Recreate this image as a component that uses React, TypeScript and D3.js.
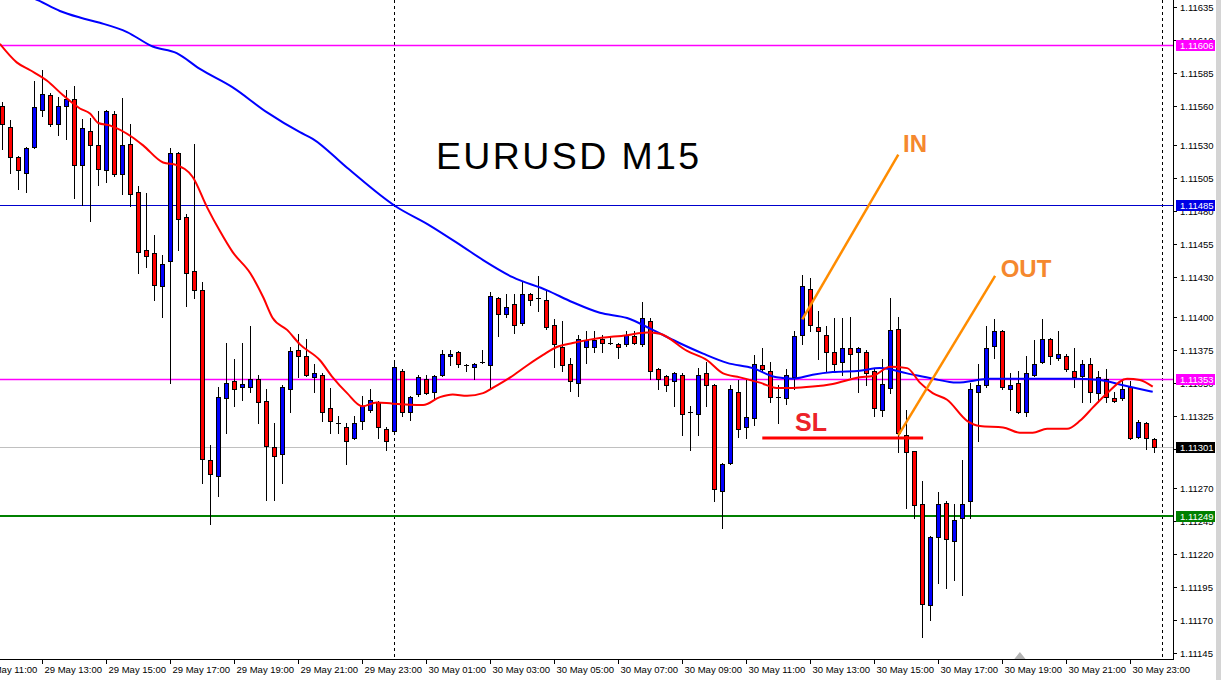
import React from 'react';
import * as d3 from 'd3';

// ---------- DATA ----------
const open = [
  1.11560,1.11544,1.11521,1.11509,1.11529,1.11557,1.11568,1.11546,1.11560,1.11565,
  1.11515,1.11541,1.11530,1.11511,1.11554,1.11508,1.11531,1.11495,1.11451,1.11448,
  1.11423,1.11442,1.11524,1.11476,1.11435,1.11420,1.11291,1.11279,1.11338,1.11351,
  1.11347,1.11347,1.11353,1.11336,1.11301,1.11296,1.11345,1.11375,1.11370,1.11354,
  1.11356,1.11331,1.11319,1.11316,1.11308,1.11321,1.11329,1.11335,1.11315,1.11313,
  1.11359,1.11328,1.11341,1.11353,1.11343,1.11356,1.11370,1.11373,1.11363,1.11362,
  1.11366,1.11363,1.11414,1.11402,1.11410,1.11395,1.11417,1.11414,1.11413,1.11394,
  1.11377,1.11364,1.11350,1.11377,1.11377,1.11383,1.11380,1.11379,1.11379,1.11385,
  1.11379,1.11397,1.11360,1.11355,1.11351,1.11356,1.11328,1.11326,1.11357,1.11348,
  1.11268,1.11289,1.11343,1.11316,1.11323,1.11363,1.11359,1.11339,1.11338,1.11354,
  1.11386,1.11421,1.11392,1.11386,1.11373,1.11366,1.11376,1.11373,1.11373,1.11359,
  1.11329,1.11346,1.11391,1.11310,1.11298,1.11258,1.11181,1.11233,1.11259,1.11230,
  1.11247,1.11260,1.11343,1.11348,1.11378,1.11389,1.11345,1.11350,1.11328,1.11356,
  1.11366,1.11383,1.11369,1.11370,1.11359,1.11355,1.11364,1.11342,1.11353,1.11338,
  1.11338,1.11347,1.11309,1.11319,1.11307,
];
const high = [
  1.11563,1.11549,1.11522,1.11529,1.11579,1.11587,1.11570,1.11567,1.11572,1.11575,
  1.11550,1.11551,1.11556,1.11557,1.11556,1.11566,1.11546,1.11499,1.11494,1.11462,
  1.11447,1.11528,1.11525,1.11478,1.11531,1.11426,1.11303,1.11347,1.11380,1.11368,
  1.11380,1.11393,1.11356,1.11345,1.11319,1.11348,1.11377,1.11387,1.11383,1.11364,
  1.11357,1.11346,1.11325,1.11319,1.11325,1.11340,1.11345,1.11336,1.11316,1.11366,
  1.11360,1.11340,1.11356,1.11356,1.11356,1.11375,1.11375,1.11374,1.11364,1.11365,
  1.11375,1.11419,1.11415,1.11417,1.11417,1.11427,1.11418,1.11431,1.11420,1.11398,
  1.11397,1.11369,1.11386,1.11389,1.11389,1.11386,1.11385,1.11380,1.11389,1.11389,
  1.11411,1.11399,1.11361,1.11356,1.11358,1.11357,1.11332,1.11361,1.11366,1.11349,
  1.11289,1.11348,1.11352,1.11352,1.11371,1.11376,1.11366,1.11348,1.11360,1.11389,
  1.11432,1.11429,1.11404,1.11393,1.11399,1.11399,1.11400,1.11377,1.11375,1.11361,
  1.11368,1.11414,1.11400,1.11329,1.11298,1.11275,1.11234,1.11267,1.11260,1.11258,
  1.11291,1.11350,1.11364,1.11393,1.11398,1.11390,1.11357,1.11359,1.11370,1.11382,
  1.11398,1.11384,1.11389,1.11372,1.11376,1.11367,1.11369,1.11359,1.11360,1.11343,
  1.11351,1.11351,1.11322,1.11320,1.11308,
];
const low = [
  1.11527,1.11509,1.11497,1.11495,1.11528,1.11552,1.11545,1.11538,1.11535,1.11490,
  1.11485,1.11473,1.11500,1.11502,1.11507,1.11493,1.11484,1.11433,1.11438,1.11413,
  1.11400,1.11350,1.11451,1.11408,1.11414,1.11274,1.11243,1.11264,1.11312,1.11332,
  1.11337,1.11343,1.11319,1.11261,1.11261,1.11274,1.11328,1.11354,1.11355,1.11343,
  1.11321,1.11312,1.11312,1.11288,1.11307,1.11315,1.11328,1.11308,1.11299,1.11312,
  1.11325,1.11322,1.11340,1.11341,1.11338,1.11355,1.11363,1.11362,1.11359,1.11353,
  1.11365,1.11345,1.11385,1.11400,1.11388,1.11394,1.11409,1.11404,1.11391,1.11362,
  1.11359,1.11344,1.11340,1.11365,1.11373,1.11373,1.11379,1.11369,1.11378,1.11379,
  1.11378,1.11353,1.11345,1.11344,1.11332,1.11310,1.11299,1.11310,1.11332,1.11260,
  1.11240,1.11288,1.11309,1.11308,1.11318,1.11359,1.11335,1.11319,1.11334,1.11345,
  1.11379,1.11389,1.11368,1.11358,1.11358,1.11356,1.11354,1.11343,1.11348,1.11325,
  1.11325,1.11342,1.11297,1.11255,1.11247,1.11157,1.11170,1.11198,1.11194,1.11200,
  1.11189,1.11247,1.11306,1.11347,1.11369,1.11345,1.11329,1.11327,1.11325,1.11355,
  1.11365,1.11364,1.11367,1.11359,1.11347,1.11335,1.11335,1.11335,1.11335,1.11335,
  1.11337,1.11307,1.11308,1.11300,1.11297,
];
const close = [
  1.11546,1.11521,1.11511,1.11528,1.11559,1.11569,1.11546,1.11560,1.11565,1.11515,
  1.11543,1.11530,1.11512,1.11556,1.11508,1.11530,1.11493,1.11449,1.11446,1.11424,
  1.11440,1.11524,1.11474,1.11433,1.11420,1.11292,1.11281,1.11339,1.11350,1.11345,
  1.11349,1.11353,1.11335,1.11302,1.11294,1.11347,1.11374,1.11370,1.11356,1.11357,
  1.11328,1.11321,1.11319,1.11306,1.11319,1.11332,1.11337,1.11316,1.11306,1.11362,
  1.11328,1.11339,1.11354,1.11342,1.11355,1.11372,1.11372,1.11364,1.11363,1.11364,
  1.11366,1.11416,1.11402,1.11407,1.11394,1.11417,1.11413,1.11414,1.11392,1.11379,
  1.11363,1.11351,1.11383,1.11382,1.11382,1.11380,1.11380,1.11377,1.11386,1.11380,
  1.11399,1.11359,1.11353,1.11348,1.11357,1.11326,1.11328,1.11356,1.11348,1.11269,
  1.11288,1.11345,1.11315,1.11324,1.11364,1.11360,1.11339,1.11339,1.11356,1.11385,
  1.11423,1.11394,1.11389,1.11373,1.11364,1.11376,1.11372,1.11376,1.11357,1.11331,
  1.11349,1.11390,1.11312,1.11297,1.11257,1.11182,1.11233,1.11258,1.11231,1.11246,
  1.11258,1.11345,1.11348,1.11376,1.11389,1.11347,1.11348,1.11328,1.11357,1.11364,
  1.11383,1.11370,1.11372,1.11360,1.11354,1.11364,1.11343,1.11354,1.11339,1.11336,
  1.11345,1.11308,1.11320,1.11308,1.11301,
];

// moving averages: [bar index, price]
const redMA: [number, number][] = [
  [-0.3,1.11607],[1.8,1.11593],[3.5,1.11587],[5.6,1.11579],[7.6,1.11568],[9.7,1.11558],
  [11.0,1.11554],[12.0,1.11547],[13.5,1.11545],[16.3,1.11536],[17.6,1.11530],[20.1,1.11517],
  [21.8,1.11515],[23.8,1.11506],[25.6,1.11483],[27.2,1.11465],[28.8,1.11449],[31.0,1.11433],
  [32.6,1.11415],[33.8,1.11399],[35.6,1.11390],[37.2,1.11379],[39.7,1.11367],[41.3,1.11354],
  [43.1,1.11342],[45.0,1.11332],[46.8,1.11335],[48.8,1.11334],[52.6,1.11333],[54.7,1.11339],
  [56.3,1.11341],[58.1,1.11340],[60.1,1.11342],[61.3,1.11346],[63.5,1.11354],[65.6,1.11363],
  [67.6,1.11371],[69.3,1.11377],[71.3,1.11380],[73.8,1.11383],[78.1,1.11386],[80.6,1.11388],
  [82.2,1.11387],[85.6,1.11374],[88.1,1.11367],[90.1,1.11357],[92.2,1.11354],[94.7,1.11350],
  [96.8,1.11346],[98.8,1.11346],[101.3,1.11347],[103.8,1.11349],[107.2,1.11354],[108.8,1.11355],
  [111.0,1.11362],[113.1,1.11361],[114.7,1.11350],[116.3,1.11342],[118.1,1.11337],[120.6,1.11321],
  [122.2,1.11317],[125.1,1.11316],[127.2,1.11312],[128.8,1.11312],[130.6,1.11315],[133.1,1.11315],
  [134.7,1.11321],[136.3,1.11331],[138.1,1.11342],[140.6,1.11353],[142.2,1.11352],[143.8,1.11347],
];
const blueMA: [number, number][] = [
  [-0.3,1.11651],[4.5,1.11640],[7.2,1.11632],[9.7,1.11627],[12.2,1.11623],[15.6,1.11616],
  [18.8,1.11605],[21.8,1.11600],[24.7,1.11588],[28.8,1.11574],[33.1,1.11555],[37.2,1.11540],
  [38.8,1.11535],[43.1,1.11513],[49.1,1.11484],[53.5,1.11469],[57.6,1.11453],[60.1,1.11443],
  [63.8,1.11430],[68.1,1.11420],[71.3,1.11411],[74.7,1.11403],[78.1,1.11399],[81.3,1.11390],
  [84.3,1.11381],[87.6,1.11372],[90.6,1.11365],[93.8,1.11361],[96.8,1.11354],[98.8,1.11353],
  [101.3,1.11356],[103.8,1.11358],[107.2,1.11359],[109.7,1.11361],[113.1,1.11357],[116.3,1.11353],
  [119.3,1.11350],[123.5,1.11353],[129.7,1.11353],[133.8,1.11353],[137.2,1.11352],[140.1,1.11348],
  [143.8,1.11343],
];

const timeLabels = [
  '29 May 11:00','29 May 13:00','29 May 15:00','29 May 17:00','29 May 19:00','29 May 21:00',
  '29 May 23:00','30 May 01:00','30 May 03:00','30 May 05:00','30 May 07:00','30 May 09:00',
  '30 May 11:00','30 May 13:00','30 May 15:00','30 May 17:00','30 May 19:00','30 May 21:00',
  '30 May 23:00',
];
const firstLabelBar = -3; // bar index of '29 May 11:00'
const barsPerLabel = 8;
const daySeparatorBars = [49, 145];

const priceTicks = [
  1.11635,1.11610,1.11585,1.11560,1.11530,1.11505,1.11480,1.11455,1.11430,1.11400,
  1.11375,1.11350,1.11325,1.11300,1.11270,1.11245,1.11220,1.11195,1.11170,1.11145,
];
const levelPrices = [1.11606, 1.11485, 1.11353, 1.11301, 1.11249];
const levelLabels = ['1.11606', '1.11485', '1.11353', '1.11301', '1.11249'];

// annotations [bar, price]
const inLine: [number, number][] = [[100, 1.11398], [112, 1.11523]];
const outLine: [number, number][] = [[112, 1.11310], [124.1, 1.11431]];
const slLine: [number, number][] = [[95, 1.11308], [115.1, 1.11308]];
const inText: [number, number] = [112.6, 1.11525];
const outText: [number, number] = [124.8, 1.11430];
const slText: [number, number] = [99.1, 1.11313];
const titleText: [number, number] = [54.2, 1.11512];

// ---------- STYLES ----------
const levelColors = ['#FF00FF', '#0000CD', '#FF00FF', '#C0C0C0', '#008000'];
const levelWidths = [1.5, 1, 1.5, 1, 2];
const levelBoxColors = ['#FF00FF', '#0000E6', '#FF00FF', '#000000', '#008000'];

export default function App() {
  const W = 1221, H = 680;
  const plotRight = 1173, plotBottom = 659;
  const x = d3.scaleLinear().domain([0, 144]).range([2.3, 1154.3]);
  const y = d3.scaleLinear().domain([1.11635, 1.11145]).range([7, 652.8]);
  const font = "'Liberation Sans', Arial, sans-serif";

  const maLine = d3.line<[number, number]>()
    .x(d => x(d[0]))
    .y(d => y(d[1]))
    .curve(d3.curveMonotoneX);

  const candles = open.map((o, i) => {
    const c = close[i];
    const cx = Math.round(x(i));
    const yt = Math.round(y(Math.max(o, c)));
    const yb = Math.round(y(Math.min(o, c)));
    const wick = (
      <line key={'w' + i} x1={cx + 0.5} x2={cx + 0.5} y1={Math.round(y(high[i]))} y2={Math.round(y(low[i])) + 1}
        stroke="#000" strokeWidth={1} />
    );
    if (o === c) {
      return (
        <g key={i}>
          {wick}
          <line x1={cx - 2} x2={cx + 3} y1={yt + 0.5} y2={yt + 0.5} stroke="#000" strokeWidth={1} />
        </g>
      );
    }
    const fill = c > o ? '#0000FF' : '#FF0000';
    return (
      <g key={i}>
        {wick}
        <rect x={cx - 1.5} y={yt + 0.5} width={4} height={Math.max(yb - yt, 1)} fill={fill} stroke="#000" strokeWidth={1} />
      </g>
    );
  });

  return (
    <svg width={W} height={H} style={{ position: 'absolute', left: 0, top: 0, background: '#fff' }}
      fontFamily={font}>
      <defs>
        <clipPath id="plot">
          <rect x={0} y={0} width={plotRight} height={plotBottom} />
        </clipPath>
      </defs>
      <rect x={0} y={0} width={W} height={H} fill="#fff" />
      <rect x={1216} y={0} width={5} height={H} fill="#D4D4D4" />

      <g clipPath="url(#plot)">
        {/* day separators */}
        {daySeparatorBars.map((b, i) => (
          <line key={i} x1={Math.round(x(b)) + 0.5} x2={Math.round(x(b)) + 0.5} y1={0} y2={plotBottom}
            stroke="#000" strokeWidth={1} strokeDasharray="3,3" />
        ))}
        {/* horizontal levels */}
        {levelPrices.map((p, i) => {
          const yy = Math.round(y(p)) + (levelWidths[i] === 2 ? 0 : 0.5);
          return (
            <line key={i} x1={0} x2={plotRight} y1={yy} y2={yy} stroke={levelColors[i]} strokeWidth={levelWidths[i]} />
          );
        })}
        {candles}
        <path d={maLine(blueMA) || ''} fill="none" stroke="#0000FF" strokeWidth={2} />
        <path d={maLine(redMA) || ''} fill="none" stroke="#FF0000" strokeWidth={2} />

        {/* annotations */}
        <line x1={x(inLine[0][0])} y1={y(inLine[0][1])} x2={x(inLine[1][0])} y2={y(inLine[1][1])}
          stroke="#FF8C00" strokeWidth={2.5} />
        <line x1={x(outLine[0][0])} y1={y(outLine[0][1])} x2={x(outLine[1][0])} y2={y(outLine[1][1])}
          stroke="#FF8C00" strokeWidth={2.5} />
        <line x1={x(slLine[0][0])} y1={y(slLine[0][1])} x2={x(slLine[1][0])} y2={y(slLine[1][1])}
          stroke="#FF0000" strokeWidth={3} />
        <text x={x(inText[0])} y={y(inText[1])} fill="#F5882E" fontSize={24} fontWeight="bold">IN</text>
        <text x={x(outText[0])} y={y(outText[1])} fill="#F5882E" fontSize={24} fontWeight="bold">OUT</text>
        <text x={x(slText[0])} y={y(slText[1])} fill="#EC2229" fontSize={25} fontWeight="bold">SL</text>
        <text x={x(titleText[0])} y={y(titleText[1])} fill="#000" fontSize={37.5} letterSpacing={2.4}>EURUSD M15</text>
      </g>

      {/* axes */}
      <line x1={plotRight + 0.5} x2={plotRight + 0.5} y1={0} y2={plotBottom + 1} stroke="#000" />
      <line x1={0} x2={plotRight + 1} y1={plotBottom + 0.5} y2={plotBottom + 0.5} stroke="#000" />

      {priceTicks.map((p, i) => {
        const yy = Math.round(y(p));
        return (
          <g key={i}>
            <line x1={plotRight} x2={plotRight + 4} y1={yy + 0.5} y2={yy + 0.5} stroke="#000" />
            <text x={1180} y={yy + 3.5} fontSize={9.5} fill="#000">{p.toFixed(5)}</text>
          </g>
        );
      })}

      {levelPrices.map((p, i) => {
        const yy = Math.round(y(p));
        return (
          <g key={i}>
            <rect x={1176} y={yy - 5} width={39} height={11} fill={levelBoxColors[i]} />
            <text x={1180} y={yy + 3.5} fontSize={9.5} fill="#fff">{levelLabels[i]}</text>
          </g>
        );
      })}

      {timeLabels.map((t, i) => {
        const xx = Math.round(x(firstLabelBar + i * barsPerLabel)) + 0.5;
        return (
          <g key={i}>
            <line x1={xx} x2={xx} y1={plotBottom} y2={plotBottom + 5} stroke="#000" />
            <text x={xx + 2} y={673} fontSize={9.5} fill="#000">{t}</text>
          </g>
        );
      })}

      {/* shift marker */}
      <path d={`M${x(126.5)},${plotBottom} L${x(127.2)},${plotBottom - 7} L${x(127.9)},${plotBottom} Z`} fill="#B4B4B4" />
    </svg>
  );
}
